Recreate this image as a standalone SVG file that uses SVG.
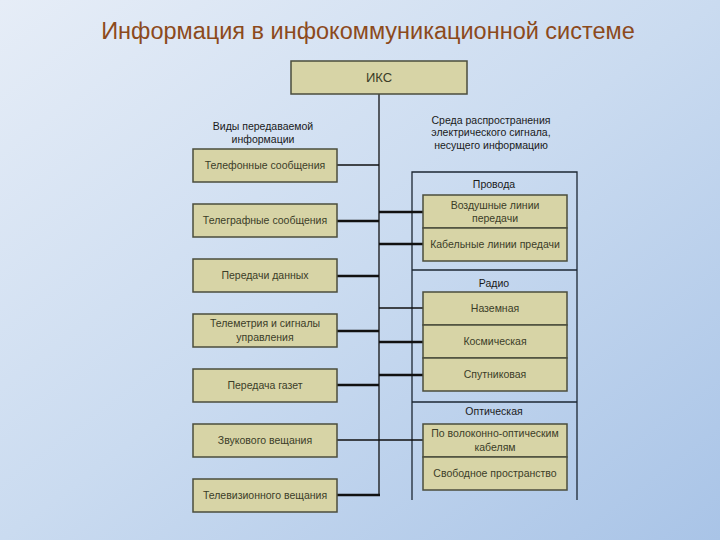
<svg xmlns="http://www.w3.org/2000/svg" width="720" height="540" viewBox="0 0 720 540">
<defs>
<linearGradient id="bg" x1="0" y1="0" x2="1" y2="1">
<stop offset="0" stop-color="#e6edf7"/>
<stop offset="0.5" stop-color="#cadbf0"/>
<stop offset="1" stop-color="#a9c4e7"/>
</linearGradient>
<style>
.box{fill:#d7d4a6;stroke:#4b4d3c;stroke-width:1.5}
.bt{font-family:"Liberation Sans",Arial,sans-serif;font-size:10.5px;fill:#3b3d28;text-anchor:middle}
.lbl{font-family:"Liberation Sans",Arial,sans-serif;font-size:10.5px;fill:#1a1a1a;text-anchor:middle}
.thin{stroke:#111;stroke-width:1.3;fill:none}
.thick{stroke:#111;stroke-width:2.6;fill:none}
.frame{stroke:#1c2733;stroke-width:1.3;fill:none}
</style>
</defs>
<rect width="720" height="540" fill="url(#bg)"/>
<text x="368" y="39" font-family="'Liberation Sans',Arial,sans-serif" font-size="23.5" fill="#8c4a1c" text-anchor="middle">Информация в инфокоммуникационной системе</text>

<g id="frames">
<path class="frame" d="M412,500 V172 H577 V500"/>
<path class="frame" d="M412,270 H577"/>
<path class="frame" d="M412,402 H577"/>
</g>

<g id="connectors">
<path class="thin" d="M379,94 V496"/>
<path class="thin" d="M337,165 H379"/>
<path class="thick" d="M337,221 H379"/>
<path class="thick" d="M337,276 H379"/>
<path class="thick" d="M337,331 H379"/>
<path class="thick" d="M337,385 H379"/>
<path class="thin" d="M337,440 H423"/>
<path class="thick" d="M337,495 H380"/>
<path class="thick" d="M379,212 H423"/>
<path class="thick" d="M379,244 H423"/>
<path class="thin" d="M379,308 H423"/>
<path class="thick" d="M379,342 H423"/>
<path class="thick" d="M379,375 H423"/>
</g>

<g id="iks"><rect class="box" x="291" y="61" width="176" height="33"/><text class="bt" x="379" y="82" style="font-size:13px">ИКС</text></g>

<g id="label-left"><text class="lbl" x="263" y="130">Виды передаваемой</text><text class="lbl" x="263" y="143">информации</text></g>
<g id="label-right"><text class="lbl" x="491" y="124">Среда распространения</text><text class="lbl" x="491" y="136">электрического сигнала,</text><text class="lbl" x="491" y="149">несущего информацию</text></g>

<g id="n1"><rect class="box" x="193" y="149" width="144" height="33"/><text class="bt" x="265" y="169">Телефонные сообщения</text></g>
<g id="n2"><rect class="box" x="193" y="204" width="144" height="33"/><text class="bt" x="265" y="224">Телеграфные сообщения</text></g>
<g id="n3"><rect class="box" x="193" y="259" width="144" height="33"/><text class="bt" x="265" y="279">Передачи данных</text></g>
<g id="n4"><rect class="box" x="193" y="314" width="144" height="33"/><text class="bt" x="265" y="327">Телеметрия и сигналы</text><text class="bt" x="265" y="341">управления</text></g>
<g id="n5"><rect class="box" x="193" y="369" width="144" height="33"/><text class="bt" x="265" y="389">Передача газет</text></g>
<g id="n6"><rect class="box" x="193" y="424" width="144" height="33"/><text class="bt" x="265" y="444">Звукового вещания</text></g>
<g id="n7"><rect class="box" x="193" y="479" width="144" height="33"/><text class="bt" x="265" y="499">Телевизионного вещания</text></g>

<g id="wires"><text class="lbl" x="494" y="188">Провода</text>
<rect class="box" x="423" y="195" width="144" height="33"/><text class="bt" x="495" y="209">Воздушные линии</text><text class="bt" x="495" y="222">передачи</text>
<rect class="box" x="423" y="228" width="144" height="33"/><text class="bt" x="495" y="248">Кабельные линии предачи</text></g>

<g id="radio"><text class="lbl" x="494" y="287">Радио</text>
<rect class="box" x="423" y="292" width="144" height="33"/><text class="bt" x="495" y="312">Наземная</text>
<rect class="box" x="423" y="325" width="144" height="33"/><text class="bt" x="495" y="345">Космическая</text>
<rect class="box" x="423" y="358" width="144" height="33"/><text class="bt" x="495" y="378">Спутниковая</text></g>

<g id="optic"><text class="lbl" x="494" y="415">Оптическая</text>
<rect class="box" x="423" y="424" width="144" height="33"/><text class="bt" x="495" y="437">По волоконно-оптическим</text><text class="bt" x="495" y="451">кабелям</text>
<rect class="box" x="423" y="457" width="144" height="33"/><text class="bt" x="495" y="477">Свободное пространство</text></g>
</svg>
